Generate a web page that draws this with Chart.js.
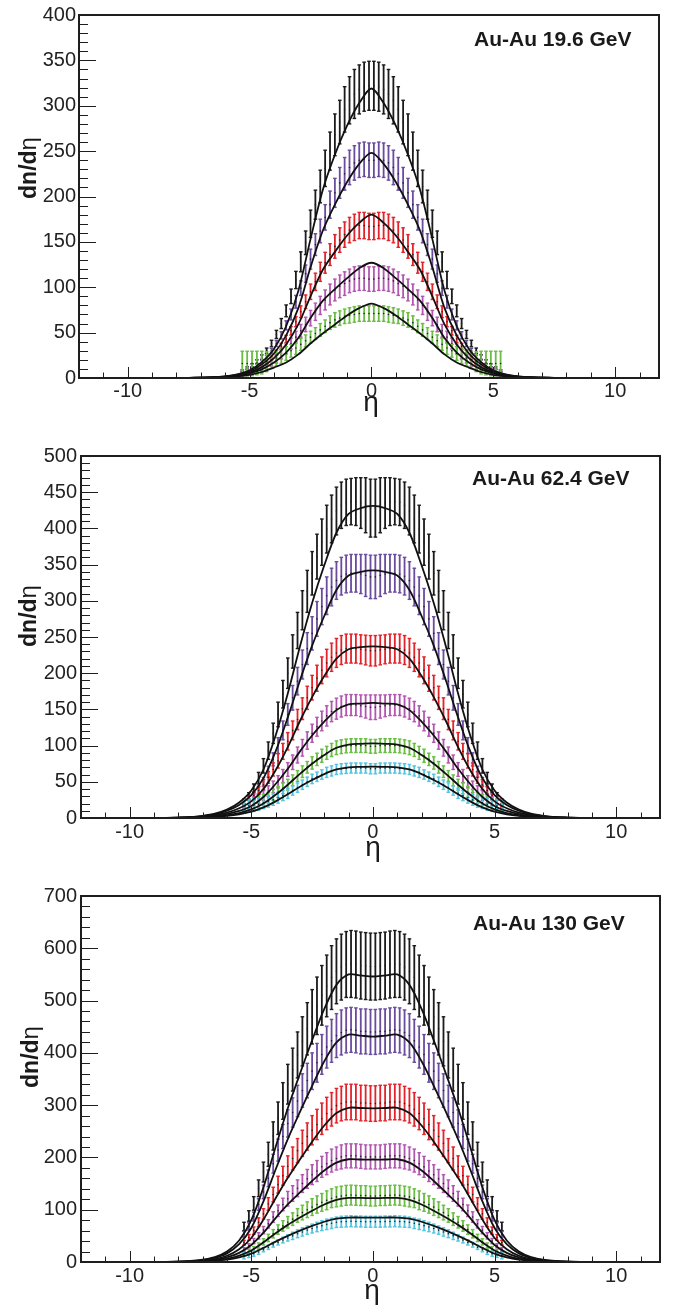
<!DOCTYPE html>
<html><head><meta charset="utf-8">
<script src="https://cdn.jsdelivr.net/npm/chart.js@4.4.1/dist/chart.umd.min.js"></script>
<style>
html,body{margin:0;padding:0;background:#fff;}
#wrap{width:680px;height:1310px;position:relative;overflow:hidden;}
.pn{position:absolute;left:0;width:680px;}
</style></head><body>
<div id="wrap">
<div class="pn" style="top:0;height:440px"><canvas id="c1"></canvas></div>
<div class="pn" style="top:440px;height:440px"><canvas id="c2"></canvas></div>
<div class="pn" style="top:880px;height:430px"><canvas id="c3"></canvas></div>
</div>
<script>
// ---------- data ----------
const etaData = [-5.3,-5.1,-4.9,-4.7,-4.5,-4.3,-4.1,-3.9,-3.7,-3.5,-3.3,-3.1,-2.9,-2.7,-2.5,-2.3,-2.1,-1.9,-1.7,-1.5,-1.3,-1.1,-0.9,-0.7,-0.5,-0.3,-0.1,0.1,0.3,0.5,0.7,0.9,1.1,1.3,1.5,1.7,1.9,2.1,2.3,2.5,2.7,2.9,3.1,3.3,3.5,3.7,3.9,4.1,4.3,4.5,4.7,4.9,5.1,5.3];
const etaModel = [-10,-9.5,-9,-8.5,-8,-7.5,-7,-6.5,-6,-5.5,-5,-4.5,-4,-3.5,-3,-2.5,-2,-1.5,-1,-0.5,0,0.5,1,1.5,2,2.5,3,3.5,4,4.5,5,5.5,6,6.5,7,7.5,8,8.5,9,9.5,10];
const xTickValues = [-10,-5,0,5,10];
const p1YTicks = [0,50,100,150,200,250,300,350,400];
const p2YTicks = [0,50,100,150,200,250,300,350,400,450,500];
const p3YTicks = [0,100,200,300,400,500,600,700];
const panelLabels = ['Au-Au 19.6 GeV','Au-Au 62.4 GeV','Au-Au 130 GeV'];
const classColors = ['#1b1b1b','#6a4c9e','#e3232a','#b257b0','#6bbd45','#56c4e0'];

// Au-Au 19.6 GeV
const p1BlackVal = [8,11,14,18,23,30,38,48,60,74,90,108,128,149,170,191,211,231,250,268,282,296,306,313,318,321,322,322,321,318,313,306,296,282,268,250,231,211,191,170,149,128,108,90,74,60,48,38,30,23,18,14,11,8];
const p1BlackErr = [1,1.3,1.6,2,2.5,3,3.6,4.5,5.5,6.5,8,9.5,11,13,15,16,18,20,21,23,24,25,26,27,27,27,27,27,27,27,27,26,25,24,23,21,20,18,16,15,13,11,9.5,8,6.5,5.5,4.5,3.6,3,2.5,2,1.6,1.3,1];
const p1PurpleVal = [6.5,8.5,11,14,18,23,30,38,47,58,70,84,99,115,131,147,162,177,191,204,215,225,232,237,240,241,240,240,241,240,237,232,225,215,204,191,177,162,147,131,115,99,84,70,58,47,38,30,23,18,14,11,8.5,6.5];
const p1PurpleErr = [1,1.1,1.3,1.5,1.8,2.2,2.7,3.3,4,5,6,7,8,9.5,11,12,13,14,15,16,17,18,19,19,19,19,19,19,19,19,19,19,18,17,16,15,14,13,12,11,9.5,8,7,6,5,4,3.3,2.7,2.2,1.8,1.5,1.3,1.1,1];
const p1RedVal = [4,5.5,7.5,10,13,17,22,28,35,43,52,62,73,84,95,106,117,127,136,145,152,158,163,166,168,168,167,167,168,168,166,163,158,152,145,136,127,117,106,95,84,73,62,52,43,35,28,22,17,13,10,7.5,5.5,4];
const p1RedErr = [1,1,1.1,1.3,1.5,1.8,2.2,2.7,3.3,4,4.7,5.5,6.5,7.5,8.5,9.5,10.5,11.5,12,13,13.5,14,14,14.5,14.5,14.5,14.5,14.5,14.5,14.5,14.5,14,14,13.5,13,12,11.5,10.5,9.5,8.5,7.5,6.5,5.5,4.7,4,3.3,2.7,2.2,1.8,1.5,1.3,1.1,1,1];
const p1MagentaVal = [5.5,6,7,8.5,10,13,17,21,26,32,38,45,52,59,66,73,80,86,92,97,101,104,107,109,110,110,109,109,110,110,109,107,104,101,97,92,86,80,73,66,59,52,45,38,32,26,21,17,13,10,8.5,7,6,5.5];
const p1MagentaErr = [3.5,3.5,3.5,3.5,3.5,3.5,4,4.5,5,5.5,6,6.5,7,8,8.5,9.5,10,11,11.5,12,12.5,13,13,13.5,13.5,13.5,13.5,13.5,13.5,13.5,13.5,13,13,12.5,12,11.5,11,10,9.5,8.5,8,7,6.5,6,5.5,5,4.5,4,3.5,3.5,3.5,3.5,3.5,3.5];
const p1GreenVal = [16,16,16,16.5,17,18,20,22,24,27,30,33,37,41,45,49,53,57,61,64,66,68,69,70,71,71,71,71,71,71,70,69,68,66,64,61,57,53,49,45,41,37,33,30,27,24,22,20,18,17,16.5,16,16,16];
const p1GreenErr = [13.5,13.5,13.5,13,12.5,11,9.5,8.5,8,7.5,7,7,6.5,6.5,6.5,6.5,7,7,7.5,8,8,8,8.5,8.5,8.5,8.5,8.5,8.5,8.5,8.5,8.5,8.5,8,8,8,7.5,7,7,6.5,6.5,6.5,6.5,7,7,7.5,8,8.5,9.5,11,12.5,13,13.5,13.5,13.5];
const p1BlackModel = [0,0,0,0,0.1,0.2,0.4,1,1.9,4.1,8.6,17.5,32,57,96,153,207,246,278,303,319,303,278,246,207,153,96,57,32,17.5,8.6,4.1,1.9,1,0.4,0.2,0.1,0,0,0,0];
const p1PurpleModel = [0,0,0,0,0.05,0.15,0.4,0.7,1.7,3.7,7.4,15,27,47,77,122,162,191,216,236,248,236,216,191,162,122,77,47,27,15,7.4,3.7,1.7,0.7,0.4,0.15,0.05,0,0,0,0];
const p1RedModel = [0,0,0,0,0.05,0.15,0.4,0.7,1.4,3.1,6.1,12,22,37,59,90,119,139,157,171,180,171,157,139,119,90,59,37,22,12,6.1,3.1,1.4,0.7,0.4,0.15,0.05,0,0,0,0];
const p1MagentaModel = [0,0,0,0,0.05,0.1,0.3,0.6,1.1,2.5,5,9.5,17,28,44,66,85,98,110,121,127,121,110,98,85,66,44,28,17,9.5,5,2.5,1.1,0.6,0.3,0.1,0.05,0,0,0,0];
const p1GreenModel = [0,0,0,0,0.04,0.1,0.2,0.4,0.9,1.8,3.5,6.6,11.5,17,26,38,49,59,69,77,82,77,69,59,49,38,26,17,11.5,6.6,3.5,1.8,0.9,0.4,0.2,0.1,0.04,0,0,0,0];

// Au-Au 62.4 GeV
const p2BlackVal = [22,30,41,55,72,93,117,143,171,200,230,259,287,313,338,361,381,399,413,424,432,436,437,437,435,432,428,428,432,435,437,437,436,432,424,413,399,381,361,338,313,287,259,230,200,171,143,117,93,72,55,41,30,22];
const p2BlackErr = [4,5,6,8,10,12,14,17,19,21,23,25,27,29,30,31,32,33,33,33,32,32,32,33,35,38,40,40,38,35,33,32,32,32,33,33,33,32,31,30,29,27,25,23,21,19,17,14,12,10,8,6,5,4];
const p2PurpleVal = [17,22,29,38,50,64,81,100,121,143,166,189,212,234,255,275,292,307,319,328,334,337,338,338,337,335,333,333,335,337,338,338,337,334,328,319,307,292,275,255,234,212,189,166,143,121,100,81,64,50,38,29,22,17];
const p2PurpleErr = [3,3.5,4,5,6,7.5,9,11,13,15,17,19,20,22,23,24,25,26,26,26,26,26,26,26,27,29,30,30,29,27,26,26,26,26,26,26,26,25,24,23,22,20,19,17,15,13,11,9,7.5,6,5,4,3.5,3];
const p2RedVal = [21,25,31,38,46,56,67,79,92,106,121,136,151,166,180,193,204,214,222,228,232,234,234,234,233,232,231,231,232,233,234,234,234,232,228,222,214,204,193,180,166,151,136,121,106,92,79,67,56,46,38,31,25,21];
const p2RedErr = [5,5,5.5,6,7,8,9,10,11,12,13,14,15,16,17,18,18.5,19,19.5,20,20,20,20,20,20,20.5,21,21,20.5,20,20,20,20,20,20,19.5,19,18.5,18,17,16,15,14,13,12,11,10,9,8,7,6,5.5,5,5];
const p2MagentaVal = [18,20,23,27,31,37,43,50,58,67,77,87,97,107,117,126,134,141,147,151,154,156,156,156,155,154,153,153,154,155,156,156,156,154,151,147,141,134,126,117,107,97,87,77,67,58,50,43,37,31,27,23,20,18];
const p2MagentaErr = [6,6,6,6.5,7,7.5,8,8.5,9,9.5,10,11,11.5,12,12.5,13,13.5,14,14,14.5,14.5,14.5,14.5,14.5,15,16,17,17,16,15,14.5,14.5,14.5,14.5,14.5,14,14,13.5,13,12.5,12,11.5,11,10,9.5,9,8.5,8,7.5,7,6.5,6,6,6];
const p2GreenVal = [17,18.5,20,22,25,28,32,36,41,46,52,58,64,70,76,81,86,90,94,97,98.5,99.5,100,100,100,100,99,99,100,100,100,100,99.5,98.5,97,94,90,86,81,76,70,64,58,52,46,41,36,32,28,25,22,20,18.5,17];
const p2GreenErr = [7.5,7.5,7.5,7.5,7.5,7.5,7.5,7.5,7.5,7.5,7.5,7.5,8,8,8.5,8.5,9,9,9,9.5,9.5,9.5,9.5,9.5,9.5,9.5,9.5,9.5,9.5,9.5,9.5,9.5,9.5,9.5,9.5,9,9,9,8.5,8.5,8,8,7.5,7.5,7.5,7.5,7.5,7.5,7.5,7.5,7.5,7.5,7.5,7.5];
const p2CyanVal = [16,17,18,19,21,23,25,28,31,34,38,42,46,50,54,57,60,63,65,67,68,68.5,69,69,69,69,68,68,69,69,69,69,68.5,68,67,65,63,60,57,54,50,46,42,38,34,31,28,25,23,21,19,18,17,16];
const p2CyanErr = [9.5,9,9,8.5,8,8,7.5,7.5,7,7,6.5,6.5,6.5,6.5,6.5,6.5,6.5,7,7,7,7,7,7,7,7,7,7,7,7,7,7,7,7,7,7,7,7,6.5,6.5,6.5,6.5,6.5,6.5,6.5,7,7,7.5,7.5,8,8,8.5,9,9,9.5];
const p2BlackModel = [0,0,0.1,0.2,0.6,1.3,3,6,11.6,21.5,38,67,114,172,237,297,349,394,420,428,431,428,420,394,349,297,237,172,114,67,38,21.5,11.6,6,3,1.3,0.6,0.2,0.1,0,0];
const p2PurpleModel = [0,0,0.1,0.2,0.5,1.2,2.6,5.1,10,18,31.5,55,92,139,190,238,279,315,335,340,342,340,335,315,279,238,190,139,92,55,31.5,18,10,5.1,2.6,1.2,0.5,0.2,0.1,0,0];
const p2RedModel = [0,0,0.07,0.17,0.4,0.9,1.9,3.8,7.3,13.5,23,40,66,98,134,167,196,220,233,236,237,236,233,220,196,167,134,98,66,40,23,13.5,7.3,3.8,1.9,0.9,0.4,0.17,0.07,0,0];
const p2MagentaModel = [0,0,0.05,0.13,0.3,0.7,1.4,2.9,5.4,9.7,16.7,29,47,68,92,114,133,149,157,158,159,158,157,149,133,114,92,68,47,29,16.7,9.7,5.4,2.9,1.4,0.7,0.3,0.13,0.05,0,0];
const p2GreenModel = [0,0,0.03,0.1,0.23,0.5,1,2.1,3.9,6.9,11.8,20,32,46,61,75,87,97,101.5,102.5,103,102.5,101.5,97,87,75,61,46,32,20,11.8,6.9,3.9,2.1,1,0.5,0.23,0.1,0.03,0,0];
const p2CyanModel = [0,0,0.03,0.07,0.18,0.4,0.8,1.6,2.9,5.1,8.7,14.6,23,32.7,43.3,52.5,60.7,67,70,70.6,71,70.6,70,67,60.7,52.5,43.3,32.7,23,14.6,8.7,5.1,2.9,1.6,0.8,0.4,0.18,0.07,0.03,0,0];

// Au-Au 130 GeV
const p3BlackVal = [68,88,112,141,172,206,241,275,308,340,368,396,422,446,469,490,510,528,544,556,564,569,570,569,567,566,565,565,566,567,569,570,569,564,556,544,528,510,490,469,446,422,396,368,340,308,275,241,206,172,141,112,88,68];
const p3BlackErr = [8,10,13,16,19,23,27,31,35,38,41,44,47,50,52,55,57,59,61,62,63,63,64,64,64,64,64,64,64,64,64,64,63,63,62,61,59,57,55,52,50,47,44,41,38,35,31,27,23,19,16,13,10,8];
const p3PurpleVal = [53,68,87,110,134,160,188,214,240,265,286,308,328,347,365,381,397,411,423,433,439,443,444,443,441,441,440,440,441,441,443,444,443,439,433,423,411,397,381,365,347,328,308,286,265,240,214,188,160,134,110,87,68,53];
const p3PurpleErr = [5.5,7,8.5,11,13,16,18,21,23,26,28,30,32,33,35,37,38,40,41,42,43,43,43,43,43,43,43,43,43,43,43,43,43,43,42,41,40,38,37,35,33,32,30,28,26,23,21,18,16,13,11,8.5,7,5.5];
const p3RedVal = [37,47,60,76,92,111,129,148,165,183,198,213,227,240,252,263,274,284,292,299,303,306,306,306,304,304,303,303,304,304,306,306,306,303,299,292,284,274,263,252,240,227,213,198,183,165,148,129,111,92,76,60,47,37];
const p3RedErr = [4.5,5.5,7,8.5,10,12,14,16,18,20,22,23,25,26,28,29,30,31,32,33,33,34,34,34,34,34,34,34,34,34,34,34,34,33,33,32,31,30,29,28,26,25,23,22,20,18,16,14,12,10,8.5,7,5.5,4.5];
const p3MagentaVal = [24,31,40,50,61,73,86,98,110,121,131,141,150,159,167,174,182,188,194,198,201,203,203,203,202,201,201,201,201,202,203,203,203,201,198,194,188,182,174,167,159,150,141,131,121,110,98,86,73,61,50,40,31,24];
const p3MagentaErr = [3.5,4,5,6,7,8,10,11,12,14,15,16,17,18,19,20,20,21,22,22,23,23,23,23,23,23,23,23,23,23,23,23,23,23,22,22,21,20,20,19,18,17,16,15,14,12,11,10,8,7,6,5,4,3.5];
const p3GreenVal = [15,20,25,31.5,38.5,46,54,62,69,76,82,89,94.5,100,105,110,114,118,122,124.5,126,127.5,128,127.5,127,127,126,126,127,127,127.5,128,127.5,126,124.5,122,118,114,110,105,100,94.5,89,82,76,69,62,54,46,38.5,31.5,25,20,15];
const p3GreenErr = [3.5,4,4.5,5,6,7,8,9,10,11,12,13,14,15,16,16.5,17,18,18,19,19,19,19,19,19,19,19,19,19,19,19,19,19,19,19,18,18,17,16.5,16,15,14,13,12,11,10,9,8,7,6,5,4.5,4,3.5];
const p3CyanVal = [12,14,16,19,23.5,28,33,37.5,42,46,50,54,57.5,61,64,67,69.5,72,74,76,77,77.5,78,77.5,77.5,77,77,77,77,77.5,77.5,78,77.5,77,76,74,72,69.5,67,64,61,57.5,54,50,46,42,37.5,33,28,23.5,19,16,14,12];
const p3CyanErr = [6,5.5,5,4.5,4,4,4.5,5,5.5,6,7,7.5,8,8,8.5,9,9.5,10,10,10,10.5,10.5,10.5,10.5,10.5,10.5,10.5,10.5,10.5,10.5,10.5,10.5,10.5,10.5,10,10,10,9.5,9,8.5,8,8,7.5,7,6,5.5,5,4.5,4,4,4.5,5,5.5,6];
const p3BlackModel = [0,0,0.1,0.3,0.8,1.9,4.4,9.4,20,41,80,143,220,294,360,424,484,530,550,548,546,548,550,530,484,424,360,294,220,143,80,41,20,9.4,4.4,1.9,0.8,0.3,0.1,0,0];
const p3PurpleModel = [0,0,0.1,0.25,0.7,1.6,3.7,7.8,16.5,34,65,116,177,235,287,337,384,420,435,433,431,433,435,420,384,337,287,235,177,116,65,34,16.5,7.8,3.7,1.6,0.7,0.25,0.1,0,0];
const p3RedModel = [0,0,0.07,0.2,0.5,1.2,2.7,5.7,12,24.5,46,81,122,161,196,230,261,285,295,294.5,294,294.5,295,285,261,230,196,161,122,81,46,24.5,12,5.7,2.7,1.2,0.5,0.2,0.07,0,0];
const p3MagentaModel = [0,0,0.05,0.15,0.4,0.9,2,4.1,8.7,17.5,32.5,56,84,110,133,155,175,190,196.5,196,196,196,196.5,190,175,155,133,110,84,56,32.5,17.5,8.7,4.1,2,0.9,0.4,0.15,0.05,0,0];
const p3GreenModel = [0,0,0.04,0.1,0.25,0.6,1.4,2.9,6,12,22,37.5,55,71,85,98,110,119,122.5,122.5,122,122.5,122.5,119,110,98,85,71,55,37.5,22,12,6,2.9,1.4,0.6,0.25,0.1,0.04,0,0];
const p3CyanModel = [0,0,0.03,0.08,0.2,0.45,1,2.1,4.4,8.8,16,27,39,50,60,69,77,83,85,85,85,85,85,83,77,69,60,50,39,27,16,8.8,4.4,2.1,1,0.45,0.2,0.08,0.03,0,0];

// ---------- layout / rendering ----------
const FONT = '"Liberation Sans", Arial, Helvetica, sans-serif';
Chart.defaults.font.family = FONT;

const panels = [
  {id:'c1', label:panelLabels[0], yTicks:p1YTicks, minor:10, major:50, H:440, L:79, R:659, T:11, B:378, yPad:3, xPad:1,
   lab:[474,45.5], yt:[36,168], xt:[371,411],
   vals:[p1BlackVal,p1PurpleVal,p1RedVal,p1MagentaVal,p1GreenVal],
   errs:[p1BlackErr,p1PurpleErr,p1RedErr,p1MagentaErr,p1GreenErr],
   models:[p1BlackModel,p1PurpleModel,p1RedModel,p1MagentaModel,p1GreenModel]},
  {id:'c2', label:panelLabels[1], yTicks:p2YTicks, minor:10, major:50, H:440, L:81, R:660, T:13, B:378, yPad:4, xPad:2,
   lab:[472,45], yt:[36,176], xt:[373,416],
   vals:[p2BlackVal,p2PurpleVal,p2RedVal,p2MagentaVal,p2GreenVal,p2CyanVal],
   errs:[p2BlackErr,p2PurpleErr,p2RedErr,p2MagentaErr,p2GreenErr,p2CyanErr],
   models:[p2BlackModel,p2PurpleModel,p2RedModel,p2MagentaModel,p2GreenModel,p2CyanModel]},
  {id:'c3', label:panelLabels[2], yTicks:p3YTicks, minor:20, major:100, H:430, L:81, R:660, T:16, B:382, yPad:4, xPad:2,
   lab:[473,50], yt:[38,177], xt:[372,419],
   vals:[p3BlackVal,p3PurpleVal,p3RedVal,p3MagentaVal,p3GreenVal,p3CyanVal],
   errs:[p3BlackErr,p3PurpleErr,p3RedErr,p3MagentaErr,p3GreenErr,p3CyanErr],
   models:[p3BlackModel,p3PurpleModel,p3RedModel,p3MagentaModel,p3GreenModel,p3CyanModel]}
];

function errBars(val, err) {
  const out = [];
  for (let i = 0; i < etaData.length; i++) {
    out.push({x:etaData[i], y:val[i]-err[i], k:'e'});
    out.push({x:etaData[i], y:val[i], k:'c'});
    out.push({x:etaData[i], y:val[i]+err[i], k:'e'});
    out.push({x:etaData[i], y:null, k:'g'});
  }
  return out;
}

const framePlugin = {
  id:'frame',
  afterDatasetsDraw(chart, args, o) {
    const ctx = chart.ctx, a = chart.chartArea, xs = chart.scales.x, ys = chart.scales.y;
    ctx.save();
    ctx.strokeStyle = '#1e1e1e';
    ctx.lineWidth = 1;
    ctx.beginPath();
    for (let v = -11; v <= 11; v++) {
      const px = Math.round(xs.getPixelForValue(v)) + 0.5;
      const len = (v % 5 === 0) ? 11 : 5.5;
      ctx.moveTo(px, a.bottom); ctx.lineTo(px, a.bottom - len);
    }
    for (let v = 0; v <= ys.max; v += o.minor) {
      const py = Math.round(ys.getPixelForValue(v)) + 0.5;
      const len = (v % o.major === 0) ? 17 : 9;
      ctx.moveTo(a.left, py); ctx.lineTo(a.left + len, py);
    }
    ctx.stroke();
    ctx.lineWidth = 2;
    ctx.strokeRect(a.left, a.top, a.right - a.left, a.bottom - a.top);
    ctx.fillStyle = '#1a1a1a';
    ctx.textBaseline = 'alphabetic';
    ctx.font = 'bold 21px ' + FONT;
    ctx.textAlign = 'left';
    ctx.fillText(o.label, o.lab[0], o.lab[1]);
    ctx.font = '28px ' + FONT;
    ctx.textAlign = 'center';
    ctx.fillText('η', o.xt[0], o.xt[1]);
    ctx.translate(o.yt[0], o.yt[1]);
    ctx.rotate(-Math.PI / 2);
    ctx.font = 'bold 23px ' + FONT;
    const w1 = ctx.measureText('dn/d').width;
    ctx.font = '24px ' + FONT;
    const w2 = ctx.measureText('η').width;
    ctx.textAlign = 'left';
    ctx.font = 'bold 23px ' + FONT;
    ctx.fillText('dn/d', -(w1 + w2) / 2, 0);
    ctx.font = '24px ' + FONT;
    ctx.fillText('η', -(w1 + w2) / 2 + w1, 0);
    ctx.restore();
  }
};

panels.forEach(p => {
  const datasets = [];
  p.vals.forEach((v, i) => {
    const col = classColors[i];
    datasets.push({
      label:'data' + i,
      data: errBars(v, p.errs[i]),
      borderColor: col,
      borderWidth: 1.8,
      tension: 0,
      spanGaps: false,
      order: 20 - i,
      pointStyle: c => (c.raw && c.raw.k === 'c') ? 'circle' : 'line',
      pointRadius: c => (!c.raw || c.raw.k === 'g') ? 0 : (c.raw.k === 'c' ? 0.8 : 1.8),
      pointBorderColor: c => (c.raw && c.raw.k === 'c') ? '#222' : col,
      pointBackgroundColor: '#222',
      pointBorderWidth: c => (c.raw && c.raw.k === 'c') ? 0 : 1.4,
      pointHoverRadius: 0
    });
  });
  p.models.forEach((m, i) => {
    datasets.push({
      label:'model' + i,
      data: etaModel.map((x, j) => ({x:x, y:m[j]})),
      borderColor:'#111',
      borderWidth:1.8,
      pointRadius:0,
      tension:0.3,
      order:i
    });
  });
  new Chart(document.getElementById(p.id), {
    type:'line',
    data:{datasets},
    options:{
      responsive:true, maintainAspectRatio:false, animation:false, devicePixelRatio:1, events:[],
      layout:{padding:{left:0, right:680 - p.R, top:p.T, bottom:0}},
      plugins:{legend:{display:false}, tooltip:{enabled:false},
        frame:{minor:p.minor, major:p.major, label:p.label, lab:p.lab, yt:p.yt, xt:p.xt}},
      scales:{
        x:{type:'linear', min:-12, max:11.8, offset:false,
           grid:{display:false, drawTicks:false}, border:{display:false},
           ticks:{font:{size:20}, color:'#222', padding:p.xPad, autoSkip:false, maxRotation:0, callback:v => String(v)},
           afterBuildTicks: s => { s.ticks = xTickValues.map(v => ({value:v})); },
           afterFit: s => { s.height = p.H - p.B; }},
        y:{type:'linear', min:0, max:p.yTicks[p.yTicks.length - 1],
           grid:{display:false, drawTicks:false}, border:{display:false},
           ticks:{font:{size:20}, color:'#222', padding:p.yPad, autoSkip:false, callback:v => String(v)},
           afterBuildTicks: s => { s.ticks = p.yTicks.map(v => ({value:v})); },
           afterFit: s => { s.width = p.L; }}
      }
    },
    plugins:[framePlugin]
  });
});
</script>
</body></html>
